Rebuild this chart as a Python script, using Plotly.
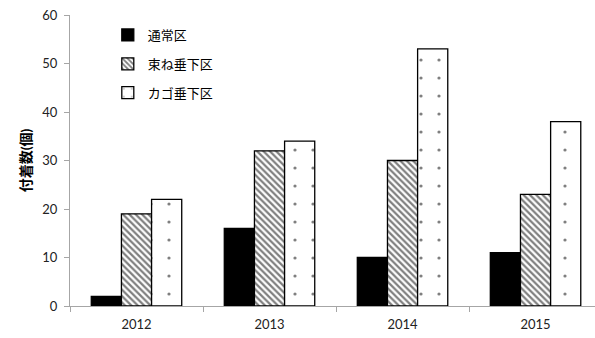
import plotly.graph_objects as go

years = ["2012", "2013", "2014", "2015"]
series_names = ["通常区", "束ね垂下区", "カゴ垂下区"]
normal = [2, 16, 10, 11]
bundled = [19, 32, 30, 23]
basket = [22, 34, 53, 38]
y_ticks = [0, 10, 20, 30, 40, 50, 60]

font_family = "Lato, 'Noto Sans CJK JP', sans-serif"

fig = go.Figure()
styles = [
    dict(marker_color="black", marker_pattern=dict(shape="")),
    dict(marker_color="white", marker_pattern=dict(shape="\\", size=4.5, solidity=0.5, fgcolor="black", bgcolor="white", fillmode="overlay")),
    dict(marker_color="white", marker_pattern=dict(shape=".", size=18, solidity=0.025, fgcolor="black", bgcolor="white", fillmode="overlay")),
]
for i, (name, vals) in enumerate(zip(series_names, [normal, bundled, basket])):
    fig.add_trace(go.Bar(
        x=years, y=vals, name=name, legendgroup=str(i),
        marker_line=dict(color="black", width=1.3),
        **styles[i],
    ))

fig.update_layout(
    width=595, height=338,
    margin=dict(l=70, r=0, t=15, b=32),
    paper_bgcolor="white", plot_bgcolor="white",
    barmode="group", bargap=0.32, bargroupgap=0,
    font=dict(family=font_family, size=13, color="#222"),
    legend=dict(x=0.072, y=0.983, xanchor="left", yanchor="top",
                tracegroupgap=9, font=dict(size=13, color="black"),
                bgcolor="rgba(0,0,0,0)", itemwidth=30),
    showlegend=True,
)
fig.update_xaxes(
    type="category", showline=True, linecolor="#A6A6A6", linewidth=1.2,
    ticks="outside", tickson="boundaries", ticklen=5, tickcolor="#A6A6A6",
    showgrid=False, tickfont=dict(size=13, color="#222"), ticklabelstandoff=6,
    range=[-0.5, 3.447],
)
fig.update_yaxes(
    range=[0, 60], tickvals=y_ticks, showline=True, linecolor="#A6A6A6",
    linewidth=1.2, ticks="outside", ticklen=5, tickcolor="#A6A6A6",
    showgrid=False, zeroline=False, tickfont=dict(size=13, color="#222"),
    ticklabelstandoff=4,
    title=dict(text="<b>付着数(個)</b>", font=dict(size=14, color="black"), standoff=7),
)

fig.write_html("out.html")
